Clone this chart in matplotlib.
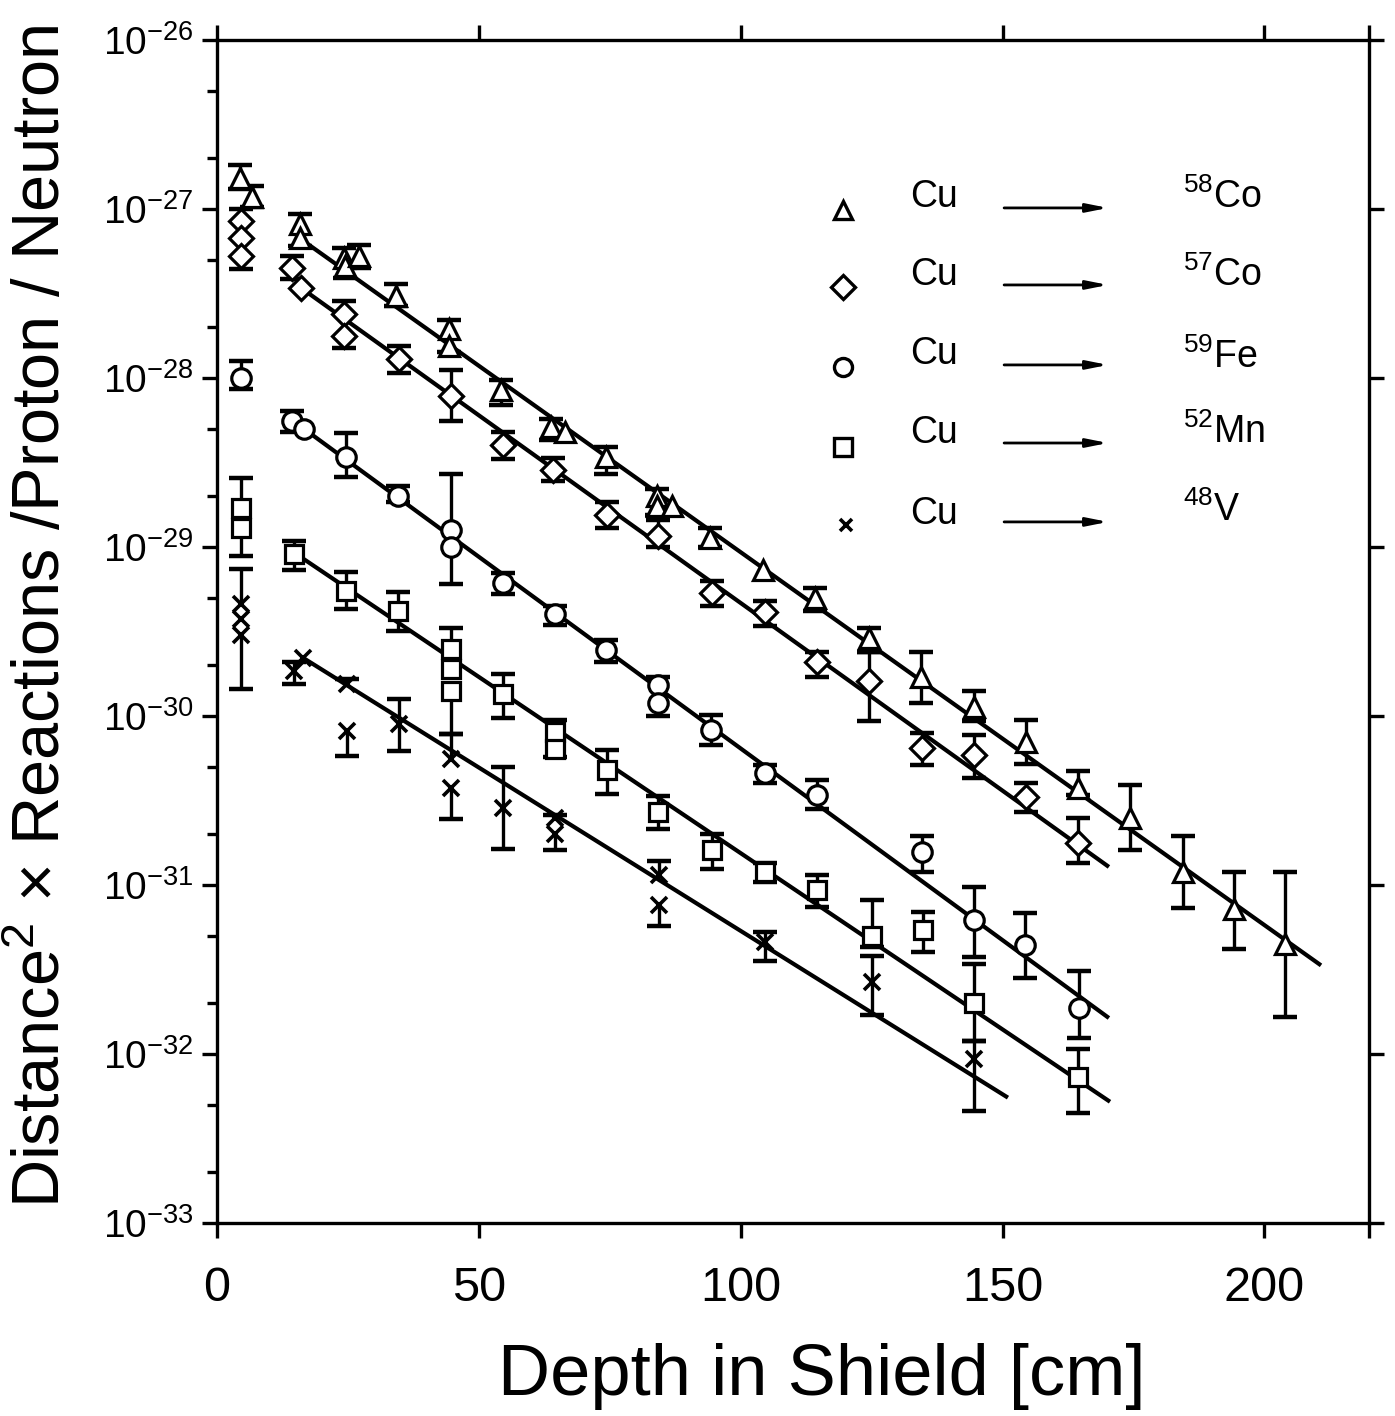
import numpy as np
import matplotlib
matplotlib.use("Agg")
import matplotlib.pyplot as plt
from matplotlib.ticker import FixedLocator, NullFormatter

plt.rcParams['font.family'] = ['Liberation Sans', 'DejaVu Sans']
plt.rcParams['mathtext.fontset'] = 'custom'
plt.rcParams['mathtext.rm'] = 'Liberation Sans'
plt.rcParams['mathtext.it'] = 'Liberation Sans'
plt.rcParams['mathtext.default'] = 'regular'

nan = np.nan

# Cu -> 58Co  (triangles)
co58_x = [4.4, 6.7, 15.8, 15.8, 24.2, 24.4, 27.2, 34.2, 44.3, 44.3, 54.2, 63.7, 66.5, 74.2, 84.0, 84.0, 86.9,
          94.1, 104.2, 114.1, 124.5, 134.4, 144.5, 154.4, 164.5, 174.4, 184.4, 194.3, 204.0]
co58_y = [1.52e-27, 1.18e-27, 8.15e-28, 6.7e-28, 5.1e-28, 4.6e-28, 5.3e-28, 3.06e-28, 1.95e-28, 1.55e-28, 8.5e-29,
          5.1e-29, 4.8e-29, 3.4e-29, 2.0e-29, 1.75e-29, 1.75e-29, 1.13e-29, 7.3e-30, 5.0e-30, 2.9e-30, 1.7e-30,
          1.13e-30, 7.0e-31, 3.75e-31, 2.5e-31, 1.2e-31, 7.2e-32, 4.45e-32]
co58_hi = [1.82e-27, 1.37e-27, 9.3e-28, nan, 5.9e-28, nan, 6.1e-28, 3.6e-28, 2.2e-28, nan, 9.7e-29, 5.7e-29, nan,
           3.9e-29, 2.2e-29, nan, nan, 1.3e-29, nan, 5.7e-30, 3.3e-30, 2.4e-30, 1.4e-30, 9.5e-31, 4.7e-31, 3.9e-31,
           1.95e-31, 1.2e-31, 1.2e-31]
co58_lo = [1.31e-27, 1.03e-27, nan, 6.0e-28, nan, 3.9e-28, 4.5e-28, 2.67e-28, nan, 1.43e-28, 6.9e-29, 4.3e-29, nan,
           2.7e-29, nan, 1.55e-29, nan, 1.0e-29, nan, 4.2e-30, 2.4e-30, 1.2e-30, 9.3e-31, 5.2e-31, 3.4e-31, 1.6e-31,
           7.3e-32, 4.2e-32, 1.66e-32]

# Cu -> 57Co  (diamonds)
co57_x = [4.6, 4.6, 4.6, 14.3, 16.1, 24.3, 24.3, 34.7, 44.6, 54.7, 64.2, 74.5, 84.2, 94.5, 104.6, 114.5, 124.5,
          134.6, 144.5, 154.4, 164.5]
co57_y = [8.5e-28, 6.7e-28, 5.3e-28, 4.47e-28, 3.4e-28, 2.4e-28, 1.77e-28, 1.3e-28, 7.8e-29, 4.0e-29, 2.86e-29,
          1.55e-29, 1.16e-29, 5.35e-30, 4.1e-30, 2.1e-30, 1.6e-30, 6.5e-31, 5.9e-31, 3.3e-31, 1.78e-31]
co57_hi = [1.0e-27, nan, nan, 5.3e-28, nan, 2.85e-28, nan, 1.55e-28, 1.12e-28, 4.8e-29, 3.36e-29, 1.85e-29,
           1.45e-29, 6.3e-30, 4.8e-30, 2.4e-30, 2.4e-30, 7.9e-31, 7.7e-31, 4.0e-31, 2.5e-31]
co57_lo = [nan, nan, 4.4e-28, 3.85e-28, nan, nan, 1.5e-28, 1.07e-28, 5.6e-29, 3.3e-29, 2.46e-29, 1.3e-29, 1.0e-29,
           4.5e-30, 3.4e-30, 1.7e-30, 9.3e-31, 5.1e-31, 4.3e-31, 2.7e-31, 1.34e-31]

# Cu -> 59Fe  (circles)
fe59_x = [4.6, 14.3, 16.6, 24.7, 34.6, 44.6, 44.6, 54.6, 64.5, 74.3, 84.2, 84.2, 94.4, 104.6, 114.6, 134.6,
          144.6, 154.3, 164.6]
fe59_y = [1.0e-28, 5.6e-29, 5.0e-29, 3.4e-29, 2.0e-29, 1.26e-29, 1.0e-29, 6.1e-30, 4.0e-30, 2.45e-30, 1.53e-30,
          1.2e-30, 8.3e-31, 4.6e-31, 3.4e-31, 1.57e-31, 6.2e-32, 4.4e-32, 1.87e-32]
fe59_hi = [1.26e-28, 6.4e-29, nan, 4.7e-29, 2.3e-29, 2.7e-29, nan, 7.0e-30, 4.5e-30, 2.8e-30, 1.7e-30, nan,
           1.02e-30, 5.1e-31, 4.2e-31, 1.95e-31, 9.7e-32, 6.8e-32, 3.1e-32]
fe59_lo = [8.6e-29, 4.8e-29, nan, 2.6e-29, 1.85e-29, nan, 6.0e-30, 5.3e-30, 3.45e-30, 2.1e-30, nan, 1.0e-30,
           6.7e-31, 4.0e-31, 2.8e-31, 1.2e-31, 3.75e-32, 2.8e-32, 1.25e-32]

# Cu -> 52Mn  (squares)
mn52_x = [4.6, 4.6, 14.7, 24.6, 34.6, 44.6, 44.6, 44.6, 54.6, 64.5, 64.5, 74.5, 84.2, 94.5, 104.7, 114.6, 125.0,
          134.8, 144.6, 164.5]
mn52_y = [1.7e-29, 1.3e-29, 9.1e-30, 5.5e-30, 4.2e-30, 2.5e-30, 1.9e-30, 1.4e-30, 1.35e-30, 8.0e-31, 6.4e-31,
          4.8e-31, 2.7e-31, 1.6e-31, 1.2e-31, 9.3e-32, 5.0e-32, 5.4e-32, 2.0e-32, 7.3e-33]
mn52_hi = [2.56e-29, nan, 1.08e-29, 7.1e-30, 5.4e-30, 3.3e-30, nan, nan, 1.77e-30, 9.5e-31, nan, 6.3e-31,
           3.35e-31, 2.0e-31, 1.34e-31, 1.14e-31, 8.15e-32, 6.9e-32, 3.4e-32, 1.07e-32]
mn52_lo = [nan, 8.8e-30, 7.3e-30, 4.3e-30, 3.2e-30, nan, nan, 7.8e-31, 9.7e-31, nan, 5.7e-31, 3.45e-31, 2.15e-31,
           1.25e-31, 1.04e-31, 7.4e-32, 4.3e-32, 4.0e-32, 1.2e-32, 4.5e-33]

# Cu -> 48V  (crosses)
v48_x = [4.6, 4.6, 4.6, 14.6, 16.5, 24.8, 24.8, 34.8, 44.6, 44.6, 54.6, 64.5, 64.5, 84.4, 84.4, 104.6, 125.0, 144.6]
v48_y = [4.6e-30, 3.75e-30, 3.0e-30, 1.85e-30, 2.2e-30, 1.55e-30, 8.15e-31, 9.0e-31, 5.6e-31, 3.75e-31, 2.85e-31,
         2.5e-31, 2.0e-31, 1.15e-31, 7.6e-32, 4.6e-32, 2.65e-32, 9.3e-33]
v48_hi = [7.4e-30, nan, nan, 2.1e-30, nan, 1.65e-30, nan, 1.26e-30, 7.8e-31, nan, 5.0e-31, 2.6e-31, nan, 1.39e-31,
          nan, 5.3e-32, 3.8e-32, 1.2e-32]
v48_lo = [nan, nan, 1.44e-30, 1.55e-30, nan, nan, 5.8e-31, 6.2e-31, nan, 2.45e-31, 1.63e-31, nan, 1.6e-31, nan,
          5.7e-32, 3.55e-32, 1.7e-32, 4.6e-33]

# fitted lines (end points)
fit_co58_x, fit_co58_y = [15.8, 210.5], [6.7e-28, 3.4e-32]
fit_co57_x, fit_co57_y = [16.1, 170.0], [3.4e-28, 1.3e-31]
fit_fe59_x, fit_fe59_y = [16.6, 170.0], [5.0e-29, 1.66e-32]
fit_mn52_x, fit_mn52_y = [16.5, 170.2], [8.5e-30, 5.3e-33]
fit_v48_x, fit_v48_y = [16.5, 150.7], [2.2e-30, 5.6e-33]

x_ticks = [0, 50, 100, 150, 200]
y_decades = [-33, -32, -31, -30, -29, -28, -27, -26]
isotopes = ['$^{58}$Co', '$^{57}$Co', '$^{59}$Fe', '$^{52}$Mn', '$^{48}$V']
markers = ['^', 'D', 'o', 's', 'x']

fig = plt.figure(figsize=(13.95, 14.16), dpi=100)
ax = fig.add_axes([0.1556, 0.1363, 0.8258, 0.8355])


def draw_series(x, y, hi, lo, marker, ms):
    x, y, hi, lo = (np.asarray(a, dtype=float) for a in (x, y, hi, lo))
    for lim in (hi, lo):
        m = ~np.isnan(lim)
        ax.vlines(x[m], y[m], lim[m], color='k', lw=2.4, zorder=3)
        ax.plot(x[m], lim[m], ls='none', marker='_', ms=17, mew=3.2, color='k', zorder=3)
    if marker == 'x':
        ax.plot(x, y, ls='none', marker='x', ms=11, mew=2.6, color='k', zorder=5)
    else:
        ax.plot(x, y, ls='none', marker=marker, ms=ms, mfc='white', mec='k', mew=2.3, zorder=5)


for fx, fy in [(fit_co58_x, fit_co58_y), (fit_co57_x, fit_co57_y), (fit_fe59_x, fit_fe59_y),
               (fit_mn52_x, fit_mn52_y), (fit_v48_x, fit_v48_y)]:
    ax.plot(fx, fy, color='k', lw=3, zorder=2)

draw_series(co58_x, co58_y, co58_hi, co58_lo, '^', 14)
draw_series(co57_x, co57_y, co57_hi, co57_lo, 'D', 12)
draw_series(fe59_x, fe59_y, fe59_hi, fe59_lo, 'o', 14)
draw_series(mn52_x, mn52_y, mn52_hi, mn52_lo, 's', 13)
draw_series(v48_x, v48_y, v48_hi, v48_lo, 'x', 11)

ax.set_yscale('log')
ax.set_xlim(0, 220)
ax.set_ylim(1e-33, 1e-26)

for s in ax.spines.values():
    s.set_linewidth(2.4)

# y ticks: decades labelled left, minor ticks at 2 and 5
ax.yaxis.set_major_locator(FixedLocator([10.0 ** d for d in y_decades]))
ax.yaxis.set_minor_locator(FixedLocator([m * 10.0 ** d for d in y_decades[:-1] for m in (2, 5)]))
ax.set_yticklabels([r'$10^{%d}$' % d for d in y_decades])
ax.yaxis.set_minor_formatter(NullFormatter())
ax.tick_params(axis='y', which='major', direction='out', length=11, width=2.4, labelsize=28, pad=6,
               right=True)
ax.tick_params(axis='y', which='minor', direction='out', length=7, width=2.4, right=False)

ax.xaxis.set_major_locator(FixedLocator(x_ticks + [220]))
ax.set_xticklabels([str(t) for t in x_ticks] + [''])
ax.tick_params(axis='x', which='major', direction='out', length=11, width=2.4, labelsize=35, pad=20, top=True)
ax.tick_params(axis='x', which='minor', bottom=False, top=False)

fig.text(0.031, 0.565, 'Distance$^2$ × Reactions /Proton / Neutron', rotation=90,
         ha='center', va='center', fontsize=48)
fig.text(0.589, 0.0148, 'Depth in Shield [cm]', ha='center', va='baseline', fontsize=52)

# legend drawn by hand like the original
leg_marker_y = [0.856, 0.791, 0.7236, 0.656, 0.590]
leg_text_y = [0.867, 0.801, 0.7346, 0.6674, 0.5997]
leg_arrow_y = [0.858, 0.7929, 0.7253, 0.6593, 0.5926]
leg_iso_y = [0.867, 0.8014, 0.732, 0.6686, 0.6027]
for i in range(5):
    if markers[i] == 'x':
        ax.plot([0.546], [leg_marker_y[i]], marker='x', ms=9, mew=2.6, color='k', ls='none',
                transform=ax.transAxes, clip_on=False)
    else:
        ax.plot([0.543], [leg_marker_y[i]], marker=markers[i], ms=13 if markers[i] != 'D' else 12,
                mfc='white', mec='k', mew=2.4, ls='none', transform=ax.transAxes, clip_on=False)
    ax.text(0.6016, leg_text_y[i], 'Cu', transform=ax.transAxes, ha='left', va='center', fontsize=27)
    ax.annotate('', xy=(0.7734, leg_arrow_y[i]), xytext=(0.6832, leg_arrow_y[i]), xycoords='axes fraction',
                arrowprops=dict(arrowstyle='-|>,head_length=0.9,head_width=0.18', lw=2, color='k',
                                shrinkA=0, shrinkB=0, mutation_scale=14))
    ax.text(0.8385, leg_iso_y[i], isotopes[i], transform=ax.transAxes, ha='left', va='center', fontsize=27)

fig.savefig('out.png', dpi=100)
